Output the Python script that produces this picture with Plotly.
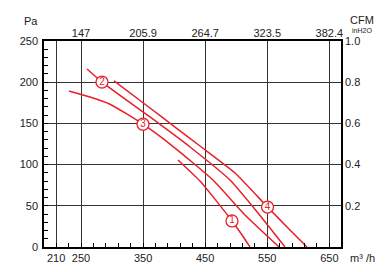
import plotly.graph_objects as go

# ---- data (m³/h vs Pa) ----
curve1_x = [406.2, 441.6, 468.0, 493.2, 510.0, 522.2]
curve1_y = [105.6, 80.1, 56.0, 31.6, 14.0, 0.0]

curve2_x = [259.7, 283.8, 361.1, 425.6, 490.0, 535.1, 578.6]
curve2_y = [216.0, 200.2, 157.8, 121.4, 81.3, 41.3, 0.0]

curve3_x = [230.7, 264.5, 296.7, 349.9, 401.4, 462.6, 514.2, 569.0]
curve3_y = [189.3, 182.0, 173.3, 149.0, 120.1, 81.3, 38.8, 0.0]

curve4_x = [303.2, 361.1, 401.4, 441.7, 498.1, 550.4, 583.4, 614.0]
curve4_y = [201.5, 168.7, 145.6, 122.6, 89.8, 48.5, 23.1, 0.0]

label_names = ["1", "2", "3", "4"]
label_x = [493.2, 283.8, 349.9, 550.4]
label_y = [31.6, 200.2, 149.0, 48.5]

x_ticks = [210, 250, 350, 450, 550, 650]
y_ticks = [0, 50, 100, 150, 200, 250]
cfm_ticks = [250, 350, 450, 550, 650]
cfm_text = ["147", "205.9", "264.7", "323.5", "382.4"]
inh2o_ticks = [50, 100, 150, 200, 250]
inh2o_text = ["0.2", "0.4", "0.6", "0.8", "1.0"]

RED = "#e8202a"
TXT = "#222222"
FONT = "Liberation Sans, Arial, sans-serif"

fig = go.Figure()
for cx, cy in [(curve1_x, curve1_y), (curve2_x, curve2_y), (curve3_x, curve3_y), (curve4_x, curve4_y)]:
    fig.add_trace(go.Scatter(x=cx, y=cy, mode="lines",
                             line=dict(color=RED, width=1.5, shape="spline", smoothing=0.5),
                             showlegend=False, hoverinfo="skip"))

fig.add_trace(go.Scatter(x=label_x, y=label_y, mode="markers+text", text=label_names,
                         textposition="middle center",
                         textfont=dict(color=RED, size=10, family=FONT),
                         marker=dict(symbol="circle", size=12, color="white",
                                     line=dict(color=RED, width=1.3)),
                         showlegend=False, hoverinfo="skip"))

# invisible trace for secondary axes
fig.add_trace(go.Scatter(x=[300], y=[100], xaxis="x2", yaxis="y2", mode="markers",
                         marker=dict(opacity=0), showlegend=False, hoverinfo="skip"))

XR = [190.4, 668.8]
YR = [0, 250]
fig.update_layout(
    width=387, height=272,
    margin=dict(l=44, r=46, t=41, b=25, pad=0),
    paper_bgcolor="white", plot_bgcolor="white",
    font=dict(family=FONT, size=11, color=TXT),
    xaxis=dict(range=XR, tickvals=x_ticks, showgrid=True, gridcolor="#333333", gridwidth=1.3,
               showline=True, linecolor="black", linewidth=1.5, mirror=True,
               ticks="inside", ticklen=4, tickcolor="black", zeroline=False,
               ticklabelstandoff=0, automargin=False,
               minor=dict(tickvals=list(range(210, 670, 20)), ticks="inside", ticklen=4,
                          tickcolor="black", showgrid=False),
               tickfont=dict(size=11, color=TXT)),
    yaxis=dict(range=YR, tickvals=y_ticks, showgrid=True, gridcolor="#333333", gridwidth=1.3,
               showline=True, linecolor="black", linewidth=1.5, mirror=True,
               ticks="inside", ticklen=4, tickcolor="black", zeroline=False,
               ticklabelstandoff=2, automargin=False,
               minor=dict(tickvals=list(range(0, 251, 10)), ticks="inside", ticklen=4,
                          tickcolor="black", showgrid=False),
               tickfont=dict(size=11, color=TXT)),
    xaxis2=dict(range=XR, overlaying="x", side="top", tickvals=cfm_ticks, ticktext=cfm_text,
                showgrid=False, showline=False, ticks="", zeroline=False,
                ticklabelstandoff=1, automargin=False,
                tickfont=dict(size=11, color=TXT)),
    yaxis2=dict(range=YR, overlaying="y", side="right", tickvals=inh2o_ticks, ticktext=inh2o_text,
                showgrid=False, showline=False, ticks="", zeroline=False,
                ticklabelstandoff=3, automargin=False,
                tickfont=dict(size=11, color=TXT)),
)

pw, ph = 297.0, 206.0
def px(xp, yp):
    return (xp - 44) / pw, (247 - yp) / ph

annots = [("Pa", 31, 21, 11), ("CFM", 362, 20.5, 11), ("inH2O", 362, 30.5, 7), ("m³ /h", 362, 257.5, 11)]
for t, x0, y0, s in annots:
    ax, ay = px(x0, y0)
    fig.add_annotation(text=t, x=ax, y=ay, xref="paper", yref="paper", showarrow=False,
                       xanchor="center", yanchor="middle", font=dict(size=s, color=TXT, family=FONT))

fig.write_html("out.html")
